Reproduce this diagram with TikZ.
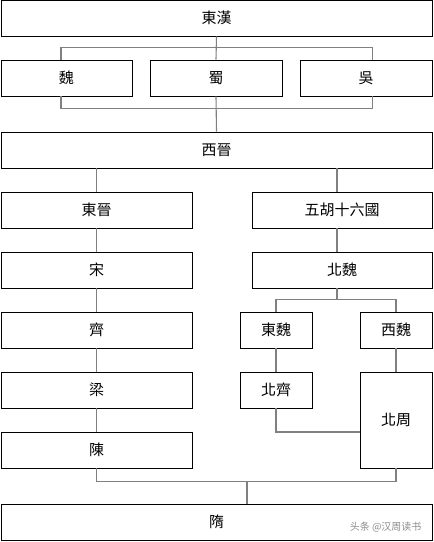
\documentclass[tikz,border=0pt]{standalone}
\usepackage{fontspec}
\newfontfamily\tcfont{Noto Sans CJK TC}
\newfontfamily\scfont{Noto Sans CJK SC}
\tikzset{
  era/.style={draw=black, line width=0.9pt, inner sep=0pt, minimum height=36pt,
    font=\tcfont\fontsize{15}{15}\selectfont},
  link/.style={draw=black!50, line width=1.1pt}
}
\begin{document}
\begin{tikzpicture}[x=1pt,y=-1pt]
\useasboundingbox (0,0) rectangle (434,542);
\newcommand{\era}[5]{
  \node[era, minimum width=#4pt] (#1) at (#2) {#5};
}

% the boxes, one row after another
\era{han}{216.5,18}{}{431}{東漢}
\era{wei}{66.5,78}{}{131}{魏}
\era{shu}{216,78}{}{132}{蜀}
\era{wu}{366,78}{}{132}{吳}
\era{xijin}{216.5,150}{}{431}{西晉}
% south (left) and north (right)
\era{dongjin}{96.5,210}{}{191}{東晉}
\era{song}{96.5,270}{}{191}{宋}
\era{qi}{96.5,330}{}{191}{齊}
\era{liang}{96.5,390}{}{191}{梁}
\era{chen}{96.5,450}{}{191}{陳}
\era{wuhu}{342,210}{}{180}{五胡十六國}
\era{beiwei}{342,270}{}{180}{北魏}
\era{dongwei}{276,330}{}{72}{東魏}
\era{xiwei}{396,330}{}{72}{西魏}
\era{beiqi}{276,390}{}{72}{北齊}
\node[era, minimum width=72pt, minimum height=96pt] (beizhou) at (396,420) {北周};
\era{sui}{216.5,522}{}{431}{隋}

% three kingdoms
\draw[link] (han.south) -- (shu.north);
\draw[link] ([xshift=-5.5pt]wei.north) -- ++(0,-12) -| ([xshift=6.5pt]wu.north);
\draw[link] ([xshift=-5.5pt]wei.south) -- ++(0,12) -| ([xshift=6.5pt]wu.south);
\draw[link] (shu.south) -- (xijin.north);

% the split
\draw[link] (dongjin.north |- xijin.south) -- (dongjin.north);
\draw[link] ([xshift=-5pt]wuhu.north |- xijin.south) -- ([xshift=-5pt]wuhu.north);
\draw[link] (dongjin) -- (song);
\draw[link] (song) -- (qi);
\draw[link] (qi) -- (liang);
\draw[link] (liang) -- (chen);
\draw[link] ([xshift=-5pt]wuhu.south) -- ([xshift=-5pt]beiwei.north);
\draw[link] ([xshift=-5pt]beiwei.south) -- ++(0,12);
\draw[link] (dongwei.north) -- ++(0,-12) -| (xiwei.north);
\draw[link] (dongwei) -- (beiqi);
\draw[link] (xiwei.south) -- (beizhou.north);
\draw[link] (beiqi.south) |- ([yshift=-12pt]beizhou.west);

% back together
\draw[link] (chen.south) -- ++(0,13) -| (beizhou.south);
\draw[link] ([xshift=30.5pt]sui.north) -- ++(0,-23);

\node[anchor=east, text=black!45, font=\scfont\fontsize{10}{10}\selectfont] (mark) at (425,527) {头条 @汉周读书};
\end{tikzpicture}
\end{document}
